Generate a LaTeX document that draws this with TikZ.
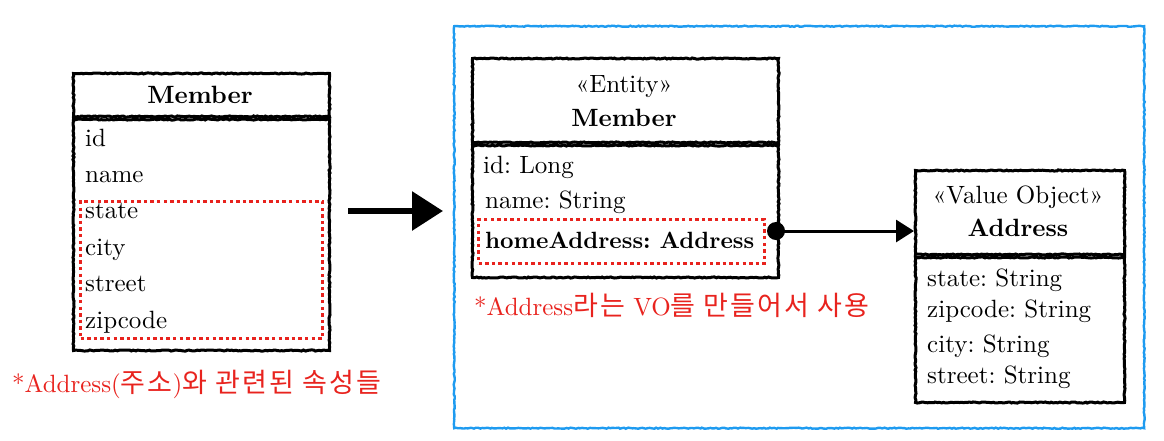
\documentclass[tikz,border=0pt]{standalone}
\usepackage{fontspec}
\usetikzlibrary{decorations.pathmorphing,arrows.meta}
\setmainfont{lmroman10}[Extension=.otf,UprightFont=*-regular,BoldFont=*-bold]
\newfontfamily\kofont{Noto Sans CJK KR}[LetterSpace=8]
\newcommand{\ko}[1]{{\kofont\fontsize{27}{30}\selectfont #1}}
\definecolor{notered}{RGB}{232,35,30}
\definecolor{voblue}{RGB}{30,155,240}

\begin{document}
\frenchspacing
\begin{tikzpicture}[x=1pt,y=-1pt,
	sketch/.style={decorate,decoration={random steps,segment length=2pt,amplitude=0.55pt}},
	classbox/.style={draw,sketch,line width=3pt,anchor=north west,inner sep=0pt},
	redbox/.style={draw=notered,line width=3pt,dash pattern=on 3.4pt off 3.2pt,anchor=north west,inner sep=0pt},
	fieldtxt/.style={font=\fontsize{25}{30}\selectfont,inner sep=0pt},
	notetxt/.style={font=\fontsize{25}{30}\selectfont,text=notered,inner sep=0pt,anchor=base west}]
	\useasboundingbox (0,0) rectangle (1164,440);
	\node[draw=voblue,line width=2.4pt,sketch,anchor=north west,inner sep=0pt,minimum width=690,minimum height=402] (voframe) at (453,25) {};

	\node[classbox,minimum width=256,minimum height=43] (memhead) at (72,72) {};
	\node[classbox,minimum width=256,minimum height=231] (membody) at (memhead.south west) {};
	\node[fieldtxt,anchor=base] (memname) at (200,103) {\textbf{Member}};
	\foreach \f [count=\i] in {id,name,state,city,street,zipcode}
		\node[fieldtxt,anchor=base west] (mf\i) at (85,{146+36.4*(\i-1)}) {\f};
	\node[redbox,minimum width=242,minimum height=137] (memgroup) at (79,200) {};
	\node[notetxt] (memnote) at (12,392) {*Address(\ko{주소})\ko{와 관련된 속성들}};

	\coordinate (from) at (348,211);
	\coordinate (to) at (443,211);
	\draw[line width=6pt,-{Triangle[length=31pt,width=38pt]}] (from) -- (to);

	\node[classbox,minimum width=306,minimum height=84] (enthead) at (471,57) {};
	\node[classbox,minimum width=306,minimum height=132] (entbody) at (enthead.south west) {};
	\node[fieldtxt,anchor=base] (entstereo) at (624,92) {«Entity»};
	\node[fieldtxt,anchor=base] (entname) at (624,126) {\textbf{Member}};
	\node[fieldtxt,anchor=base west] (ef1) at (483,173) {id: Long};
	\node[fieldtxt,anchor=base west] (ef2) at (485,208) {name: String};
	\node[fieldtxt,anchor=base west,font=\fontsize{23.5}{28}\selectfont] (ef3) at (485,248) {\textbf{homeAddress: Address}};
	\node[redbox,minimum width=286,minimum height=44] (entgroup) at (477,218) {};
	\node[notetxt] (entnote) at (474,315) {*Address\ko{라는} VO\ko{를 만들어서 사용}};

	\node[classbox,minimum width=209,minimum height=84] (addrhead) at (914,169) {};
	\node[classbox,minimum width=209,minimum height=145] (addrbody) at (addrhead.south west) {};
	\node[fieldtxt,anchor=base] (addrstereo) at (1018,203) {«Value Object»};
	\node[fieldtxt,anchor=base] (addrname) at (1018,236) {\textbf{Address}};
	\foreach \f/\y [count=\i] in {state/286,zipcode/317,city/352,street/383}
		\node[fieldtxt,anchor=base west] (af\i) at (927,\y) {\f: String};

	\node[circle,fill,inner sep=0pt,minimum size=18pt] (hook) at (776,231) {};
	\draw[line width=3pt,-{Triangle[length=18pt,width=22pt]}] (hook.center) -- (hook.center -| addrhead.west);
\end{tikzpicture}
\end{document}
